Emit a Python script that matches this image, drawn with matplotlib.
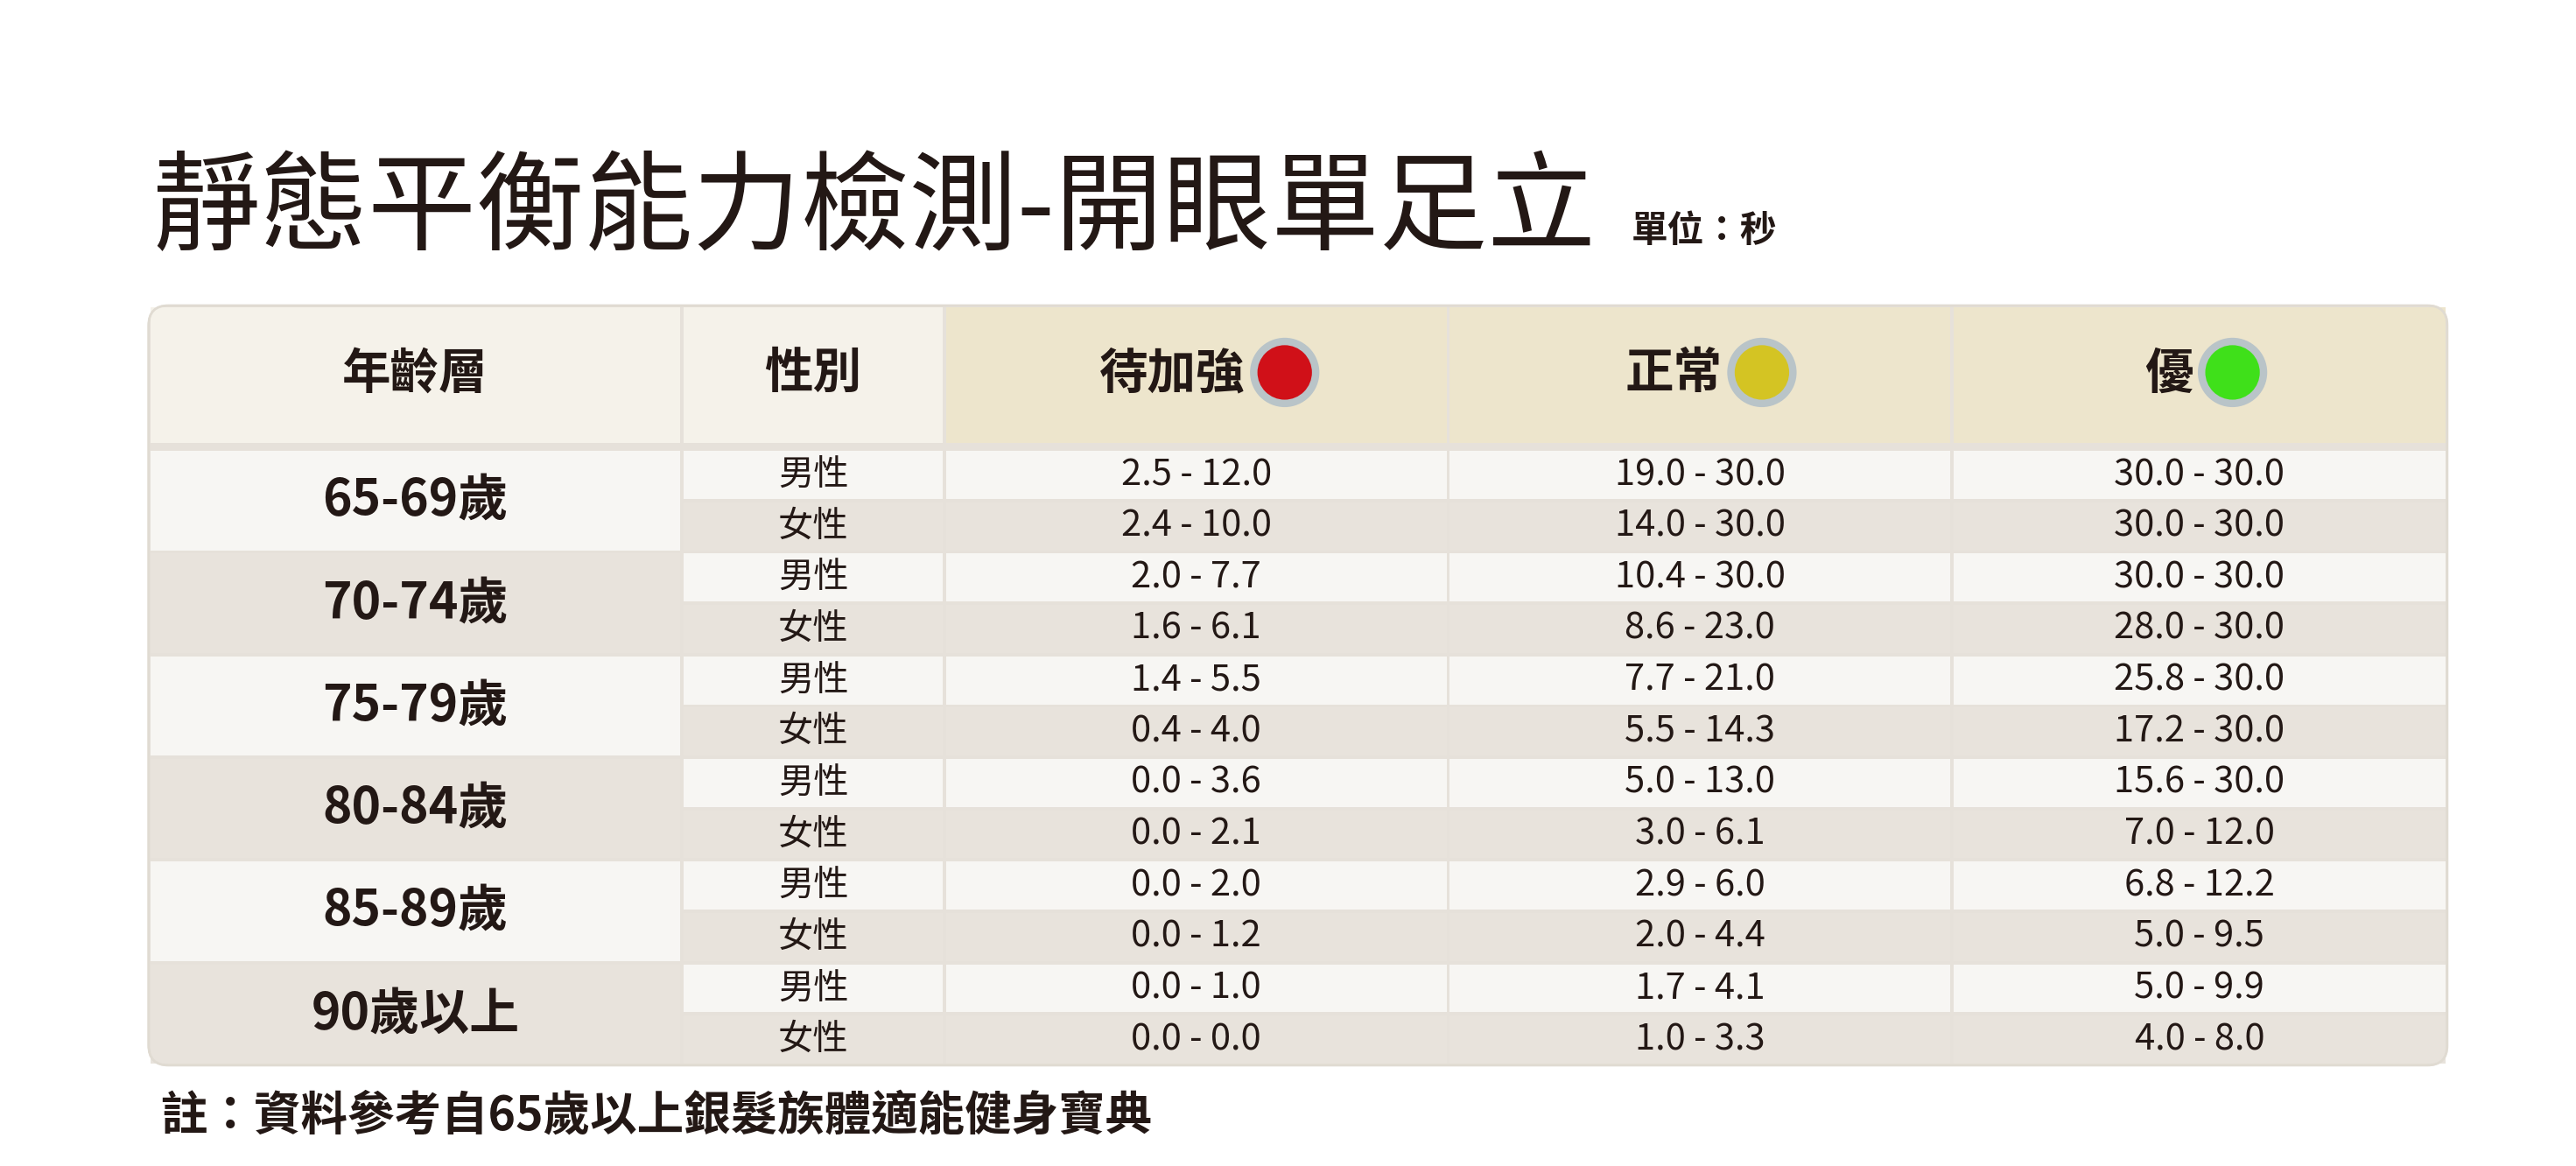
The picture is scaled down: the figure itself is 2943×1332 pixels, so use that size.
import matplotlib.pyplot as plt
from matplotlib.patches import FancyBboxPatch, Rectangle, Circle

plt.rcParams['font.family'] = ['Noto Sans CJK TC', 'DejaVu Sans']

title = '靜態平衡能力檢測-開眼單足立'
unit = '單位：秒'
note = '註：資料參考自65歲以上銀髮族體適能健身寶典'
headers = ['年齡層', '性別', '待加強', '正常', '優']
ages = ['65-69歲', '70-74歲', '75-79歲', '80-84歲', '85-89歲', '90歲以上']
sexes = ['男性', '女性']
weak = ['2.5 - 12.0', '2.4 - 10.0', '2.0 - 7.7', '1.6 - 6.1', '1.4 - 5.5', '0.4 - 4.0',
        '0.0 - 3.6', '0.0 - 2.1', '0.0 - 2.0', '0.0 - 1.2', '0.0 - 1.0', '0.0 - 0.0']
normal = ['19.0 - 30.0', '14.0 - 30.0', '10.4 - 30.0', '8.6 - 23.0', '7.7 - 21.0', '5.5 - 14.3',
          '5.0 - 13.0', '3.0 - 6.1', '2.9 - 6.0', '2.0 - 4.4', '1.7 - 4.1', '1.0 - 3.3']
good = ['30.0 - 30.0', '30.0 - 30.0', '30.0 - 30.0', '28.0 - 30.0', '25.8 - 30.0', '17.2 - 30.0',
        '15.6 - 30.0', '7.0 - 12.0', '6.8 - 12.2', '5.0 - 9.5', '5.0 - 9.9', '4.0 - 8.0']
dot_colors = ['#d01018', '#d4c423', '#3fe01a']

fig = plt.figure(figsize=(29.43, 13.32), dpi=100)
ax = fig.add_axes([0, 0, 1, 1])
ax.set_xlim(0, 1560)
ax.set_ylim(706, 0)
ax.axis('off')

cols = [90, 413, 572, 877, 1182, 1482]
top, head_bot, bot = 185, 268, 645
row_h = (bot - 272) / 12

# table background
ax.add_patch(FancyBboxPatch((cols[0], top), cols[-1] - cols[0], bot - top,
                            boxstyle='round,pad=0,rounding_size=12',
                            fc='#e6e1da', ec='#d8d2c8', lw=1.5))
# header cells
for i in range(5):
    fc = '#f5f2ea' if i < 2 else '#ede5cc'
    ax.add_patch(Rectangle((cols[i] + 1, top + 1), cols[i + 1] - cols[i] - 2, head_bot - top - 1,
                           fc=fc, ec='none'))

# body rows
for r in range(12):
    y0 = 272 + r * row_h
    fc = '#f7f6f3' if r % 2 == 0 else '#e8e3dc'
    for i in range(1, 5):
        ax.add_patch(Rectangle((cols[i] + 1, y0 + 1), cols[i + 1] - cols[i] - 2, row_h - 2,
                               fc=fc, ec='none'))
for g in range(6):
    y0 = 272 + g * 2 * row_h
    fc = '#f7f6f3' if g % 2 == 0 else '#e8e3dc'
    ax.add_patch(Rectangle((cols[0] + 1, y0 + 1), cols[1] - cols[0] - 2, 2 * row_h - 2,
                           fc=fc, ec='none'))
ax.add_patch(FancyBboxPatch((cols[0], top), cols[-1] - cols[0], bot - top,
                            boxstyle='round,pad=0,rounding_size=12',
                            fc='none', ec='#e0dbd2', lw=2))

# header text
hy = (top + head_bot) / 2
for i, h in enumerate(headers[:2]):
    cx = (cols[i] + cols[i + 1]) / 2
    ax.text(cx, hy, h, ha='center', va='center', fontsize=40, fontweight='bold', color='#231815')
dot_x = [778, 1067, 1352]
for j, h in enumerate(headers[2:]):
    ax.text(dot_x[j] - 24, hy, h, ha='right', va='center', fontsize=40,
            fontweight='bold', color='#231815')
    ax.add_patch(Circle((dot_x[j], hy - 1), 21, fc='#b9c4c8', ec='none'))
    ax.add_patch(Circle((dot_x[j], hy - 1), 16.5, fc=dot_colors[j], ec='none'))

# body text
for g, a in enumerate(ages):
    ax.text((cols[0] + cols[1]) / 2, 272 + (g * 2 + 1) * row_h, a, ha='center', va='center',
            fontsize=41, fontweight='bold', color='#231815')
for r in range(12):
    yc = 272 + (r + 0.5) * row_h
    ax.text((cols[1] + cols[2]) / 2, yc, sexes[r % 2], ha='center', va='center',
            fontsize=29, color='#231815')
    for i, vals in enumerate([weak, normal, good]):
        ax.text((cols[i + 2] + cols[i + 3]) / 2, yc, vals[r], ha='center', va='center',
                fontsize=30, color='#231815')

ax.text(92, 128, title, ha='left', va='center', fontsize=89, fontweight='light', color='#231815')
ax.text(988, 140, unit, ha='left', va='center', fontsize=30, fontweight='bold', color='#231815')
ax.text(97, 676, note, ha='left', va='center', fontsize=38.5, fontweight='bold', color='#231815')

fig.savefig('out.png', dpi=100, facecolor='white')
